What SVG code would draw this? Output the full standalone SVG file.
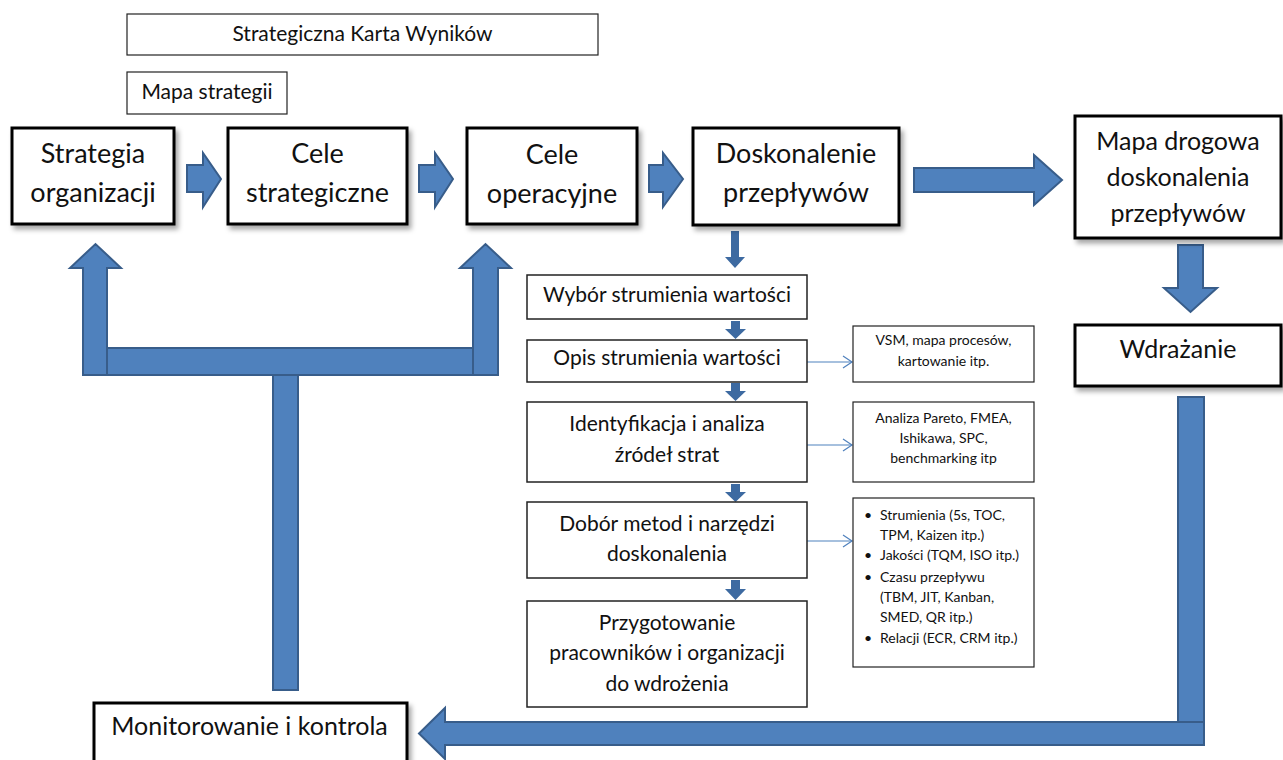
<svg xmlns="http://www.w3.org/2000/svg" width="1283" height="760" viewBox="0 0 1283 760">
<style>
text{font-family:Lato,"Open Sans","Liberation Sans",sans-serif;fill:#111;text-anchor:middle}
.big{font-size:27px}
.mid{font-size:25px}
.med{font-size:21px}
.top{font-size:21px}
.sm{font-size:14px}
.li{font-size:14px;text-anchor:start}
.mb{fill:#fff;stroke:#000;stroke-width:3}
.tb{fill:#fff;stroke:#222;stroke-width:1.5}
.sb{fill:#fff;stroke:#222;stroke-width:1.2}
.ba{fill:#4f81bd;stroke:#385d8a;stroke-width:2;stroke-linejoin:miter}
.sa{fill:#3d6aa1}
.tl{fill:none;stroke:#4f81bd;stroke-width:1.2}
</style>
<defs>
<filter id="sh" x="-10%" y="-10%" width="130%" height="140%">
<feDropShadow dx="3" dy="4" stdDeviation="2.5" flood-color="#000" flood-opacity="0.35"/>
</filter>
<marker id="oa" markerWidth="12" markerHeight="14" refX="10" refY="7" orient="auto" markerUnits="userSpaceOnUse">
<path d="M1,1 L10,7 L1,13" fill="none" stroke="#4f81bd" stroke-width="1.2"/>
</marker>
</defs>

<g id="connectors">
<polygon class="ba" points="187,165 203,165 203,153 221,179 203,207 203,192 187,192"/>
<polygon class="ba" points="419,165 435,165 435,153 453,179 435,207 435,192 419,192"/>
<polygon class="ba" points="649,165 663,165 663,153 683,179 663,207 663,192 649,192"/>
<polygon class="ba" points="914,168 1034,168 1034,155 1062,180 1034,205 1034,192 914,192"/>
<polygon class="ba" points="1178,245 1203,245 1203,288 1217,288 1190.5,312 1164,288 1178,288"/>
<rect class="ba" x="1178" y="397" width="26" height="325"/>
<polygon class="ba" points="1204,722 1204,745 445,745 445,759 419,733.5 445,708 445,722"/>
<rect class="ba" x="273" y="375" width="25" height="315"/>
<rect class="ba" x="107" y="348" width="366" height="27"/>
<polygon class="ba" points="83,375 83,268 70,268 95.5,244 121,268 107,268 107,375"/>
<polygon class="ba" points="473,375 473,268 460,268 485.5,244 511,268 498,268 498,375"/>
<polygon class="sa" points="731,231 739,231 739,257 745,257 735,268 725,257 731,257"/>
<polygon class="sa" points="731,321 740,321 740,329 746,329 735.5,339 725,329 731,329"/>
<polygon class="sa" points="731,383 740,383 740,391 746,391 735.5,401 725,391 731,391"/>
<polygon class="sa" points="731,484 740,484 740,492 746,492 735.5,502 725,492 731,492"/>
<polygon class="sa" points="731,580 740,580 740,589 746,589 735.5,600 725,589 731,589"/>
<line class="tl" x1="807" y1="362" x2="852" y2="362" marker-end="url(#oa)"/>
<line class="tl" x1="807" y1="445" x2="852" y2="445" marker-end="url(#oa)"/>
<line class="tl" x1="807" y1="541" x2="852" y2="541" marker-end="url(#oa)"/>
</g>

<g id="n-skw"><rect class="sb" x="127" y="14" width="471" height="41"/><text class="top" x="362.5" y="41">Strategiczna Karta Wyników</text></g>
<g id="n-mapa-strategii"><rect class="sb" x="127" y="72" width="160" height="42"/><text class="top" x="207" y="99">Mapa strategii</text></g>

<g id="n-strategia"><rect class="mb" filter="url(#sh)" x="12" y="128" width="162" height="96"/><text class="big" x="93" y="163">Strategia</text><text class="big" x="93" y="202">organizacji</text></g>
<g id="n-cele-strat"><rect class="mb" filter="url(#sh)" x="228" y="128" width="179" height="96"/><text class="big" x="317.5" y="163">Cele</text><text class="big" x="317.5" y="202">strategiczne</text></g>
<g id="n-cele-oper"><rect class="mb" filter="url(#sh)" x="467" y="128" width="170" height="96"/><text class="big" x="552" y="164">Cele</text><text class="big" x="552" y="203">operacyjne</text></g>
<g id="n-doskonalenie"><rect class="mb" filter="url(#sh)" x="693" y="128" width="206" height="97"/><text class="big" x="796" y="163">Doskonalenie</text><text class="big" x="796" y="202">przepływów</text></g>
<g id="n-mapa-drogowa"><rect class="mb" filter="url(#sh)" x="1075" y="116" width="206" height="122"/><text class="mid" x="1178" y="150">Mapa drogowa</text><text class="mid" x="1178" y="186">doskonalenia</text><text class="mid" x="1178" y="222">przepływów</text></g>
<g id="n-wdrazanie"><rect class="mb" filter="url(#sh)" x="1075" y="325" width="206" height="61"/><text class="mid" x="1178" y="358">Wdrażanie</text></g>
<g id="n-monitorowanie"><rect class="mb" filter="url(#sh)" x="94" y="703" width="313" height="70"/><text class="mid" x="249.5" y="735">Monitorowanie i kontrola</text></g>

<g id="n-wybor"><rect class="tb" x="527" y="275" width="280" height="44"/><text class="med" x="667" y="302">Wybór strumienia wartości</text></g>
<g id="n-opis"><rect class="tb" x="527" y="340" width="280" height="42"/><text class="med" x="667" y="365">Opis strumienia wartości</text></g>
<g id="n-identyfikacja"><rect class="tb" x="527" y="402" width="280" height="80"/><text class="med" x="667" y="431">Identyfikacja i analiza</text><text class="med" x="667" y="462">źródeł strat</text></g>
<g id="n-dobor"><rect class="tb" x="527" y="502" width="280" height="76"/><text class="med" x="667" y="531">Dobór metod i narzędzi</text><text class="med" x="667" y="561">doskonalenia</text></g>
<g id="n-przygotowanie"><rect class="tb" x="527" y="601" width="280" height="106"/><text class="med" x="667" y="630">Przygotowanie</text><text class="med" x="667" y="660">pracowników i organizacji</text><text class="med" x="667" y="691">do wdrożenia</text></g>

<g id="n-vsm"><rect class="sb" x="853" y="326" width="181" height="56"/><text class="sm" x="943.5" y="345">VSM, mapa procesów,</text><text class="sm" x="943.5" y="366">kartowanie itp.</text></g>
<g id="n-analiza"><rect class="sb" x="853" y="402" width="181" height="80"/><text class="sm" x="943.5" y="423">Analiza Pareto, FMEA,</text><text class="sm" x="943.5" y="443">Ishikawa, SPC,</text><text class="sm" x="943.5" y="463">benchmarking itp</text></g>
<g id="n-metody"><rect class="sb" x="853" y="498" width="181" height="169"/>
<text class="li" x="864" y="520">•</text><text class="li" x="880" y="520">Strumienia (5s, TOC,</text>
<text class="li" x="880" y="540">TPM, Kaizen itp.)</text>
<text class="li" x="864" y="560">•</text><text class="li" x="880" y="560">Jakości (TQM, ISO itp.)</text>
<text class="li" x="864" y="582">•</text><text class="li" x="880" y="582">Czasu przepływu</text>
<text class="li" x="880" y="602">(TBM, JIT, Kanban,</text>
<text class="li" x="880" y="622">SMED, QR itp.)</text>
<text class="li" x="864" y="643">•</text><text class="li" x="880" y="643">Relacji (ECR, CRM itp.)</text>
</g>
</svg>
